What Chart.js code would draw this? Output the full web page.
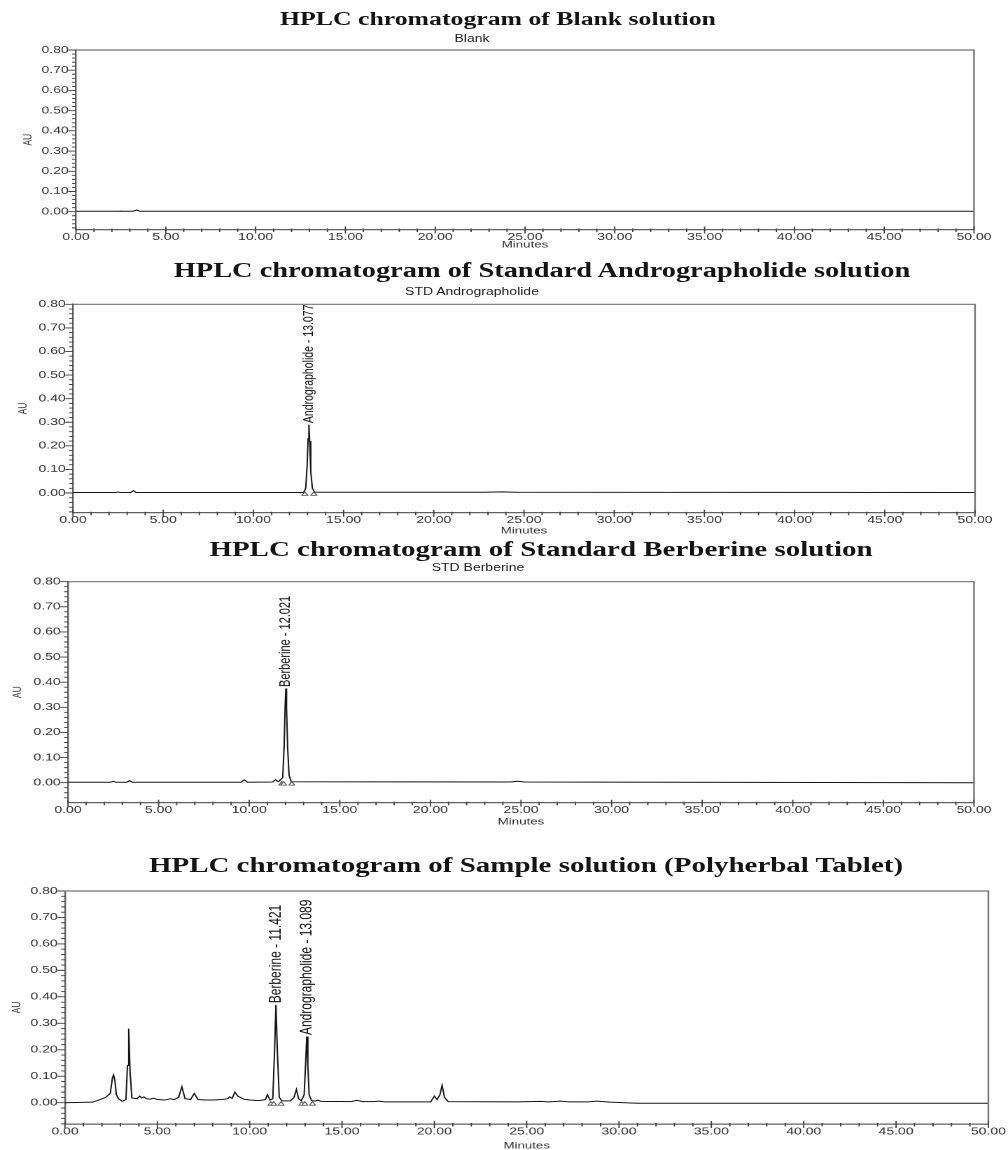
<!DOCTYPE html>
<html>
<head>
<meta charset="utf-8">
<script src="https://cdn.jsdelivr.net/npm/chart.js@4.4.1/dist/chart.umd.min.js"></script>
<style>
html,body{margin:0;padding:0;background:#fff;width:1008px;height:1150px;overflow:hidden;}
#wrap{position:absolute;left:0;top:0;width:720px;height:1150px;transform:scaleX(1.4);transform-origin:0 0;}
#wrap canvas{position:absolute;left:0;}
.ttl{position:absolute;white-space:nowrap;font-family:'Liberation Serif','Times New Roman',serif;font-weight:bold;line-height:1;transform:translate(-50%,-50%);color:#141414;}
.sub{position:absolute;white-space:nowrap;font-family:'Liberation Sans',Arial,sans-serif;line-height:1;transform:translate(-50%,-50%);color:#222;}
</style>
</head>
<body>
<div id="wrap"></div>
<script>
// ---------------- DATA ----------------
const xTickValues = [0, 5, 10, 15, 20, 25, 30, 35, 40, 45, 50];
const yTickValues = [0, 0.1, 0.2, 0.3, 0.4, 0.5, 0.6, 0.7, 0.8];

const panelTitles = [
  'HPLC chromatogram of Blank solution',
  'HPLC chromatogram of Standard Andrographolide solution',
  'HPLC chromatogram of Standard Berberine solution',
  'HPLC chromatogram of Sample solution (Polyherbal Tablet)'
];
const panelSubtitles = ['Blank', 'STD Andrographolide', 'STD Berberine', ''];

// Blank
const blankTime = [0.0, 2.35, 2.5, 2.65, 3.15, 3.3, 3.4, 3.55, 50.0];
const blankAU   = [0.002, 0.002, 0.003, 0.002, 0.002, 0.006, 0.008, 0.002, 0.002];

// STD Andrographolide
const andrTime = [0.0, 2.35, 2.5, 2.65, 3.2, 3.35, 3.5, 12.78, 12.9, 12.98,
                  13.03, 13.077, 13.12, 13.18, 13.27, 13.4, 22.8, 23.8, 24.6, 50.0];
const andrAU   = [0.002, 0.002, 0.004, 0.002, 0.002, 0.010, 0.002, 0.002, 0.02, 0.12,
                  0.23, 0.29, 0.22, 0.09, 0.02, 0.003, 0.003, 0.005, 0.003, 0.002];
const andrMarkTime = [12.85, 13.35];
const andrPeakTime = [13.077];
const andrPeakText = ['Andrographolide - 13.077'];

// STD Berberine
const berbTime = [0.0, 2.35, 2.5, 2.65, 3.25, 3.4, 3.55, 9.55, 9.72, 9.9,
                  11.3, 11.45, 11.6, 11.85, 11.93, 11.98, 12.021, 12.06, 12.12, 12.2,
                  12.32, 24.4, 24.8, 25.2, 50.0];
const berbAU   = [0.002, 0.002, 0.005, 0.002, 0.002, 0.008, 0.002, 0.002, 0.012, 0.002,
                  0.003, 0.012, 0.004, 0.02, 0.15, 0.30, 0.375, 0.30, 0.14, 0.03,
                  0.004, 0.003, 0.006, 0.003, 0.0];
const berbMarkTime = [11.8, 11.9, 12.35];
const berbPeakTime = [12.021];
const berbPeakText = ['Berberine - 12.021'];

// Sample (Polyherbal Tablet)
const sampTime = [
  0.0, 1.5, 1.9, 2.2, 2.45, 2.57, 2.63, 2.7, 2.78, 2.9,
  3.1, 3.3, 3.38, 3.45, 3.52, 3.62, 3.9, 4.05, 4.15, 4.27,
  4.4, 4.6, 4.8, 5.0, 5.4, 5.7, 5.9, 6.15, 6.33, 6.5,
  6.8, 7.0, 7.2, 7.6, 8.0, 8.5, 8.8, 8.92, 9.05, 9.2,
  9.35, 9.5, 9.7, 10.0, 10.5, 10.85, 10.96, 11.1, 11.25, 11.35,
  11.421, 11.5, 11.6, 11.75, 12.2, 12.4, 12.53, 12.65, 12.8, 12.95,
  13.03, 13.089, 13.15, 13.22, 13.35, 13.55, 13.7, 13.85, 15.5, 15.8,
  16.1, 16.7, 17.0, 17.3, 19.8, 20.0, 20.15, 20.3, 20.42, 20.55,
  20.75, 24.5, 25.7, 26.2, 26.8, 27.3, 28.3, 28.8, 29.5, 31.0,
  50.0
];
const sampAU = [
  0.0, 0.002, 0.012, 0.02, 0.035, 0.095, 0.105, 0.085, 0.03, 0.015,
  0.005, 0.012, 0.14, 0.28, 0.12, 0.018, 0.015, 0.025, 0.018, 0.022,
  0.015, 0.013, 0.017, 0.012, 0.01, 0.015, 0.012, 0.02, 0.06, 0.015,
  0.012, 0.035, 0.012, 0.01, 0.01, 0.012, 0.015, 0.022, 0.016, 0.04,
  0.025, 0.02, 0.013, 0.01, 0.008, 0.012, 0.03, 0.01, 0.015, 0.20,
  0.37, 0.19, 0.02, 0.007, 0.007, 0.02, 0.05, 0.015, 0.008, 0.03,
  0.15, 0.25, 0.14, 0.03, 0.008, 0.006, 0.01, 0.005, 0.004, 0.009,
  0.004, 0.004, 0.006, 0.003, 0.003, 0.025, 0.012, 0.03, 0.066, 0.02,
  0.004, 0.003, 0.005, 0.003, 0.006, 0.003, 0.003, 0.006, 0.002, -0.002,
  -0.002
];
const sampMarkTime = [11.15, 11.3, 11.7, 12.82, 12.98, 13.4];
const sampPeakTime = [11.421, 13.089];
const sampPeakText = ['Berberine - 11.421', 'Andrographolide - 13.089'];

const markerLevel = -0.005;

// ---------------- LAYOUT (screen px) ----------------
const STRETCH = 1.4;
const LOGICAL_W = 1008 / STRETCH;
const layouts = [
  {left:76, right:974, top:50,    bottom:229.5,  yMin:-0.088,  minutesY:245,  auX:28, titleX:498, titleY:18.5,  titleSize:18.4, subX:472, subY:38.5,  labelSize:11},
  {left:73, right:975, top:304.3, bottom:512.7,  yMin:-0.0835, minutesY:531,  auX:23, titleX:542, titleY:270.3, titleSize:20.3, subX:472, subY:291.5, labelSize:10.5},
  {left:68, right:974, top:581.7, bottom:802.7,  yMin:-0.0796, minutesY:822,  auX:18, titleX:541, titleY:549,   titleSize:20.7, subX:478, subY:568,   labelSize:11},
  {left:65, right:989, top:891,   bottom:1124,   yMin:-0.0805, minutesY:1146, auX:17, titleX:526, titleY:865,   titleSize:20.7, subX:500, subY:880,   labelSize:12}
];

const seriesList = [
  {time:blankTime, au:blankAU, marks:[], peaks:[], texts:[]},
  {time:andrTime, au:andrAU, marks:andrMarkTime, peaks:andrPeakTime, texts:andrPeakText},
  {time:berbTime, au:berbAU, marks:berbMarkTime, peaks:berbPeakTime, texts:berbPeakText},
  {time:sampTime, au:sampAU, marks:sampMarkTime, peaks:sampPeakTime, texts:sampPeakText}
];

Chart.defaults.font.family = "'Liberation Sans', Arial, sans-serif";
Chart.defaults.color = '#333';

const framePlugin = {
  id: 'frame',
  afterDraw(chart) {
    const {ctx, chartArea: a, scales: {x, y}} = chart;
    ctx.save();
    ctx.strokeStyle = '#747474';
    ctx.lineWidth = 1.2;
    ctx.beginPath();
    ctx.moveTo(a.left, a.top);
    ctx.lineTo(a.right, a.top);
    ctx.lineTo(a.right, a.bottom);
    ctx.stroke();
    ctx.strokeStyle = '#3c3c3c';
    ctx.lineWidth = 0.9;
    ctx.beginPath();
    const kStart = Math.ceil(y.min / 0.02 - 1e-9);
    const kEnd = Math.round(y.max / 0.02);
    for (let k = kStart; k <= kEnd; k++) {
      const py = y.getPixelForValue(k * 0.02);
      const major = (k % 5 === 0) && k >= 0;
      ctx.moveTo(a.left - (major ? 5.5 : 2.8), py);
      ctx.lineTo(a.left, py);
    }
    for (let m = Math.ceil(x.min); m <= x.max; m++) {
      const px = x.getPixelForValue(m);
      const major = m % 5 === 0;
      ctx.moveTo(px, a.bottom - (major ? 3 : 1));
      ctx.lineTo(px, a.bottom + (major ? 4 : 2.5));
    }
    ctx.stroke();
    ctx.restore();
  }
};

const peakLabelPlugin = {
  id: 'peakLabels',
  afterDatasetsDraw(chart, args, opts) {
    if (!opts.times || !opts.times.length) return;
    const {ctx, scales: {x, y}} = chart;
    const data = chart.data.datasets[0].data;
    ctx.save();
    ctx.fillStyle = '#111';
    ctx.font = opts.size + "px 'Liberation Sans', Arial, sans-serif";
    ctx.textAlign = 'left';
    ctx.textBaseline = 'middle';
    opts.times.forEach((t, k) => {
      let top = -Infinity;
      data.forEach(p => { if (Math.abs(p.x - t) < 0.15 && p.y > top) top = p.y; });
      const px = x.getPixelForValue(t);
      const py = y.getPixelForValue(top);
      ctx.save();
      ctx.translate(px, py - 1.5);
      ctx.rotate(-Math.PI / 2);
      ctx.fillText(opts.texts[k], 0, 0);
      ctx.restore();
    });
    ctx.restore();
  }
};

const wrap = document.getElementById('wrap');

function addText(cls, text, x, y, size) {
  if (!text) return;
  const d = document.createElement('div');
  d.className = cls;
  d.textContent = text;
  d.style.left = (x / STRETCH) + 'px';
  d.style.top = y + 'px';
  d.style.fontSize = size + 'px';
  wrap.appendChild(d);
}

layouts.forEach((L, i) => {
  const S = seriesList[i];
  addText('ttl', panelTitles[i], L.titleX, L.titleY, L.titleSize);
  addText('sub', panelSubtitles[i], L.subX, L.subY, 10);

  const canvasTop = Math.floor(L.top - 12);
  const canvasH = Math.ceil(L.minutesY + 8 - canvasTop);
  const cv = document.createElement('canvas');
  cv.width = Math.round(LOGICAL_W);
  cv.height = canvasH;
  cv.style.top = canvasTop + 'px';
  cv.style.width = Math.round(LOGICAL_W) + 'px';
  cv.style.height = canvasH + 'px';
  wrap.appendChild(cv);

  const yTitleSize = 8.5, xTitleSize = 9.5;
  const padLeft = L.auX / STRETCH - yTitleSize * 1.2 / 2;
  const xTitlePadBottom = (canvasTop + canvasH) - L.minutesY - xTitleSize * 1.2 / 2;
  const yScaleWidth = L.left / STRETCH - padLeft;
  const xScaleHeight = canvasH - (L.bottom - canvasTop);

  const lineData = S.time.map((t, k) => ({x: t, y: S.au[k]}));
  const markData = S.marks.map(t => ({x: t, y: markerLevel}));

  new Chart(cv, {
    type: 'scatter',
    data: {
      datasets: [
        {data: lineData, showLine: true, pointRadius: 0, borderColor: '#141414', borderWidth: 1, tension: 0, order: 1},
        {data: markData, showLine: false, pointStyle: 'triangle', pointRadius: 2.4,
         borderColor: '#555', backgroundColor: '#fff', borderWidth: 0.8, order: 0}
      ]
    },
    options: {
      responsive: false,
      maintainAspectRatio: false,
      devicePixelRatio: 2,
      animation: false,
      events: [],
      layout: {padding: {top: L.top - canvasTop, bottom: 0, left: padLeft, right: LOGICAL_W - L.right / STRETCH}},
      plugins: {
        legend: {display: false},
        tooltip: {enabled: false},
        peakLabels: {times: S.peaks, texts: S.texts, size: L.labelSize}
      },
      scales: {
        x: {
          type: 'linear', min: 0, max: 50,
          afterBuildTicks: ax => { ax.ticks = xTickValues.map(v => ({value: v})); },
          afterFit: sc => { sc.height = xScaleHeight; },
          grid: {display: false, drawTicks: false},
          border: {display: true, color: '#606060', width: 1.2},
          ticks: {autoSkip: false, maxRotation: 0, padding: 1.5, color: '#333',
                  font: {size: 10}, callback: v => Number(v).toFixed(2)},
          title: {display: true, text: 'Minutes', color: '#333', font: {size: xTitleSize},
                  padding: {top: 0, bottom: xTitlePadBottom}}
        },
        y: {
          type: 'linear', min: L.yMin, max: 0.8,
          afterBuildTicks: ax => { ax.ticks = yTickValues.map(v => ({value: v})); },
          afterFit: sc => { sc.width = yScaleWidth; },
          grid: {display: false, drawTicks: false},
          border: {display: true, color: '#606060', width: 1.2},
          ticks: {autoSkip: false, padding: 5.2, color: '#333',
                  font: {size: 10}, callback: v => Number(v).toFixed(2)},
          title: {display: true, text: 'AU', color: '#333', font: {size: yTitleSize},
                  padding: {top: 0, bottom: 0}}
        }
      }
    },
    plugins: [framePlugin, peakLabelPlugin]
  });
});
</script>
</body>
</html>
